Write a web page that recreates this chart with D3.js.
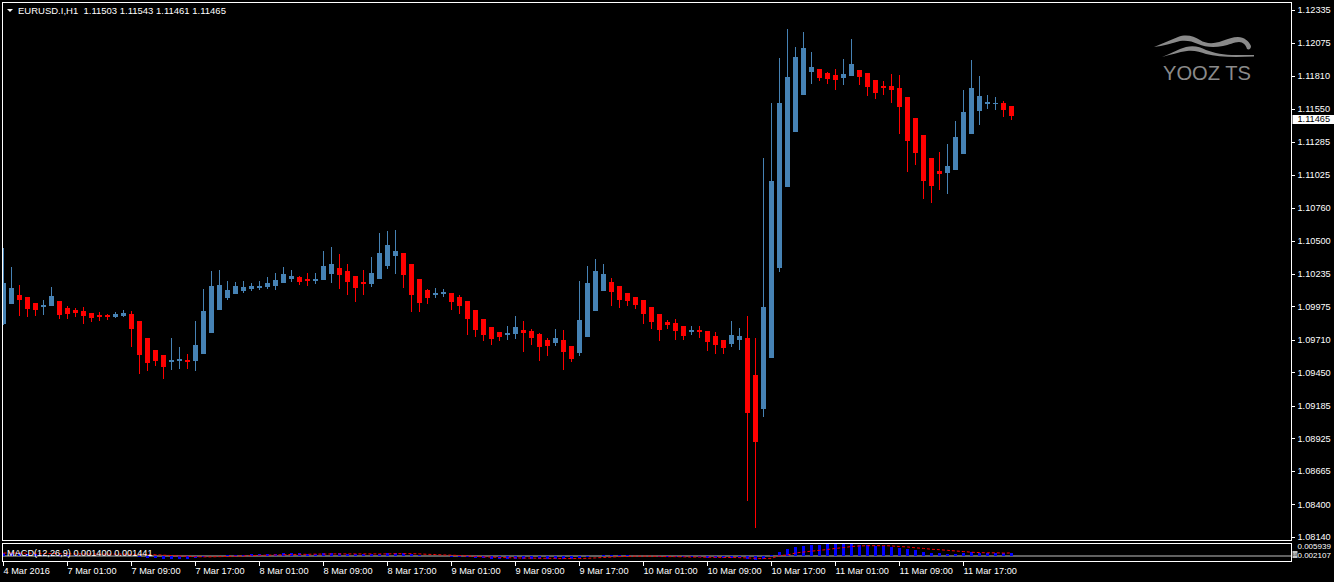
<!DOCTYPE html>
<html><head><meta charset="utf-8">
<script src="https://cdn.jsdelivr.net/npm/d3@7"></script>
<style>
html,body{margin:0;padding:0;background:#000;overflow:hidden;}
svg{display:block;}
text{font-family:"Liberation Sans",Arial,sans-serif;}
</style></head>
<body>
<svg id="chart" width="1334" height="582"></svg>
<script>
// ---------- DATA ----------
const symbolTitle = "EURUSD.I,H1  1.11503 1.11543 1.11461 1.11465";
const macdTitle = "MACD(12,26,9) 0.001400 0.001441";
const lastPrice = 1.11465;
const timeTickBars = [0, 8, 16, 24, 32, 40, 48, 56, 64, 72, 80, 88, 96, 104, 112, 120];
const timeTickLabels = ["4 Mar 2016","7 Mar 01:00","7 Mar 09:00","7 Mar 17:00","8 Mar 01:00","8 Mar 09:00",
  "8 Mar 17:00","9 Mar 01:00","9 Mar 09:00","9 Mar 17:00","10 Mar 01:00","10 Mar 09:00","10 Mar 17:00",
  "11 Mar 01:00","11 Mar 09:00","11 Mar 17:00"];
const priceTicks = [1.12335,1.12075,1.11810,1.11550,1.11285,1.11025,1.10760,1.10500,1.10235,
  1.09975,1.09710,1.09450,1.09185,1.08925,1.08665,1.08400,1.08140];
const macdScaleMax = 0.005939;
const macdScaleLabel2 = "0.002107";
const macdZeroLabel = "0.00";

const openP = [1.09836,1.09997,1.10066,1.10051,1.10003,1.09971,1.09981,1.10019,1.09963,1.09947,
1.09939,1.09923,1.09910,1.09910,1.09894,1.09902,1.09915,1.09860,1.09724,1.09629,
1.09589,1.09533,1.09541,1.09549,1.09543,1.09597,1.09764,1.09947,1.10043,1.10074,
1.10098,1.10114,1.10122,1.10130,1.10138,1.10162,1.10194,1.10210,1.10196,1.10180,
1.10186,1.10234,1.10281,1.10257,1.10218,1.10170,1.10154,1.10194,1.10297,1.10377,
1.10401,1.10313,1.10194,1.10106,1.10066,1.10074,1.10082,1.10051,1.10019,1.09947,
1.09875,1.09812,1.09772,1.09748,1.09756,1.09788,1.09780,1.09756,1.09708,1.09684,
1.09708,1.09660,1.09605,1.09732,1.09939,1.10098,1.10170,1.10138,1.10082,1.10051,
1.10027,1.09971,1.09915,1.09852,1.09844,1.09820,1.09772,1.09788,1.09780,1.09740,
1.09708,1.09676,1.09708,1.09724,1.09430,1.09159,1.09565,1.10281,1.10926,1.11364,
1.11658,1.11844,1.11865,1.11834,1.11818,1.11796,1.11812,1.11857,1.11834,1.11778,
1.11732,1.11732,1.11714,1.11642,1.11475,1.11340,1.11157,1.11053,1.11040,1.11064,
1.11191,1.11350,1.11533,1.11589,1.11589,1.11595,1.11571];
const highP = [1.10438,1.10289,1.10146,1.10051,1.10003,1.10029,1.10130,1.10019,1.09976,1.09963,
1.09971,1.09923,1.09929,1.09915,1.09929,1.09947,1.09939,1.09860,1.09724,1.09629,
1.09589,1.09724,1.09652,1.09597,1.09860,1.10114,1.10257,1.10265,1.10178,1.10170,
1.10178,1.10162,1.10178,1.10210,1.10242,1.10289,1.10265,1.10218,1.10242,1.10242,
1.10417,1.10449,1.10393,1.10313,1.10218,1.10265,1.10369,1.10560,1.10576,1.10584,
1.10401,1.10313,1.10194,1.10114,1.10122,1.10114,1.10082,1.10066,1.10019,1.09947,
1.09875,1.09812,1.09772,1.09820,1.09899,1.09860,1.09796,1.09764,1.09724,1.09796,
1.09788,1.09660,1.10178,1.10297,1.10353,1.10313,1.10202,1.10138,1.10082,1.10051,
1.10027,1.09971,1.09915,1.09867,1.09875,1.09820,1.09820,1.09820,1.09780,1.09772,
1.09708,1.09860,1.09804,1.09899,1.09724,1.11157,1.11595,1.11953,1.12184,1.12040,
1.12160,1.12001,1.11865,1.11844,1.11865,1.11945,1.12104,1.11857,1.11834,1.11778,
1.11770,1.11826,1.11818,1.11642,1.11475,1.11340,1.11157,1.11205,1.11268,1.11451,
1.11698,1.11937,1.11810,1.11658,1.11642,1.11611,1.11571];
const lowP = [1.09828,1.09995,1.09902,1.09894,1.09902,1.09910,1.09981,1.09878,1.09878,1.09894,
1.09838,1.09854,1.09862,1.09870,1.09886,1.09894,1.09652,1.09438,1.09464,1.09504,
1.09400,1.09472,1.09480,1.09477,1.09464,1.09597,1.09764,1.09947,1.10027,1.10074,
1.10085,1.10101,1.10109,1.10114,1.10106,1.10162,1.10170,1.10146,1.10138,1.10154,
1.10186,1.10162,1.10114,1.10066,1.10011,1.10066,1.10130,1.10194,1.10273,1.10234,
1.10122,1.09931,1.09931,1.09995,1.10043,1.10051,1.09947,1.09915,1.09748,1.09732,
1.09700,1.09668,1.09700,1.09708,1.09716,1.09613,1.09668,1.09541,1.09581,1.09660,
1.09470,1.09533,1.09581,1.09732,1.09939,1.10098,1.09979,1.09963,1.09979,1.09955,
1.09836,1.09796,1.09700,1.09796,1.09708,1.09708,1.09748,1.09724,1.09621,1.09597,
1.09597,1.09652,1.09629,1.08427,1.08212,1.09095,1.09565,1.10250,1.10926,1.11364,
1.11658,1.11748,1.11770,1.11748,1.11701,1.11740,1.11812,1.11740,1.11653,1.11629,
1.11661,1.11597,1.11350,1.11048,1.11104,1.10833,1.10801,1.10905,1.10873,1.11064,
1.11191,1.11350,1.11422,1.11549,1.11541,1.11486,1.11462];
const closeP = [1.10160,1.10122,1.10029,1.09955,1.09949,1.09987,1.10058,1.09910,1.09918,1.09923,
1.09902,1.09886,1.09891,1.09894,1.09918,1.09923,1.09796,1.09589,1.09525,1.09541,
1.09492,1.09549,1.09557,1.09533,1.09668,1.09939,1.10138,1.10146,1.10106,1.10138,
1.10130,1.10138,1.10140,1.10162,1.10186,1.10234,1.10218,1.10170,1.10180,1.10196,
1.10297,1.10313,1.10226,1.10170,1.10122,1.10154,1.10242,1.10401,1.10464,1.10417,
1.10226,1.10066,1.10003,1.10043,1.10082,1.10093,1.10011,1.09979,1.09875,1.09788,
1.09748,1.09716,1.09732,1.09764,1.09812,1.09764,1.09724,1.09652,1.09660,1.09724,
1.09613,1.09557,1.09867,1.10162,1.10257,1.10234,1.10090,1.10027,1.10019,1.09987,
1.09915,1.09852,1.09788,1.09828,1.09780,1.09740,1.09788,1.09772,1.09692,1.09668,
1.09645,1.09748,1.09740,1.09127,1.08896,1.09971,1.10974,1.11595,1.11802,1.11961,
1.12033,1.11881,1.11796,1.11786,1.11780,1.11826,1.11905,1.11804,1.11724,1.11677,
1.11717,1.11701,1.11565,1.11295,1.11199,1.10976,1.10936,1.11032,1.11093,1.11324,
1.11523,1.11714,1.11650,1.11605,1.11597,1.11541,1.11494];

const macdMain = [0.0015,0.0014,0.0012,0.0010,0.0008,0.0007,0.0007,0.0005,0.0004,0.0003,
0.0002,0.0001,0.0000,-0.0001,-0.0001,-0.0001,-0.0002,-0.0005,-0.0008,-0.0010,
-0.0012,-0.0012,-0.0012,-0.0012,-0.0010,-0.0006,-0.0002,0.0002,0.0004,0.0006,
0.0007,0.0008,0.0009,0.0010,0.0011,0.0012,0.0012,0.0012,0.0011,0.0011,
0.0012,0.0013,0.0013,0.0011,0.0009,0.0008,0.0008,0.0010,0.0012,0.0013,
0.0012,0.0009,0.0005,0.0002,0.0000,-0.0001,-0.0003,-0.0005,-0.0007,-0.0009,
-0.0011,-0.0012,-0.0013,-0.0013,-0.0012,-0.0012,-0.0012,-0.0013,-0.0013,-0.0012,
-0.0013,-0.0014,-0.0010,-0.0005,0.0000,0.0003,0.0004,0.0004,0.0003,0.0002,
0.0000,-0.0002,-0.0004,-0.0005,-0.0006,-0.0007,-0.0007,-0.0007,-0.0008,-0.0009,
-0.0010,-0.0009,-0.0009,-0.0013,-0.0018,-0.0014,0.0004,0.0020,0.0032,0.0041,
0.0046,0.0050,0.0050,0.0055,0.0055,0.0055,0.0058,0.0050,0.0050,0.0047,
0.0047,0.0044,0.0040,0.0032,0.0027,0.0020,0.0014,0.0014,0.0009,0.0009,
0.0014,0.0017,0.0014,0.0014,0.0014,0.0014,0.0014];
const macdSignal = [0.0014,0.0014,0.0014,0.0013,0.0013,0.0012,0.0012,0.0011,0.0011,0.0010,
0.0010,0.0010,0.0009,0.0009,0.0009,0.0009,0.0008,0.0008,0.0007,0.0006,
0.0004,0.0002,0.0000,-0.0002,-0.0003,-0.0004,-0.0004,-0.0003,-0.0002,-0.0001,
0.0000,0.0002,0.0003,0.0004,0.0005,0.0006,0.0007,0.0008,0.0008,0.0009,
0.0009,0.0010,0.0010,0.0010,0.0010,0.0010,0.0010,0.0010,0.0010,0.0011,
0.0011,0.0011,0.0010,0.0008,0.0007,0.0005,0.0004,0.0002,0.0000,-0.0002,
-0.0004,-0.0005,-0.0007,-0.0008,-0.0009,-0.0010,-0.0010,-0.0011,-0.0011,-0.0011,
-0.0012,-0.0012,-0.0012,-0.0011,-0.0009,-0.0007,-0.0005,-0.0003,-0.0002,-0.0001,
-0.0001,-0.0001,-0.0002,-0.0003,-0.0003,-0.0004,-0.0005,-0.0005,-0.0006,-0.0006,
-0.0007,-0.0007,-0.0008,-0.0009,-0.0011,-0.0012,-0.0011,0.0002,0.0005,0.0014,
0.0019,0.0023,0.0027,0.0031,0.0036,0.0040,0.0045,0.0048,0.0049,0.0049,
0.0049,0.0048,0.0045,0.0043,0.0039,0.0036,0.0032,0.0030,0.0027,0.0024,
0.0021,0.0018,0.0016,0.0015,0.0015,0.0014,0.001441];

// ---------- LAYOUT ----------
const W = 1334, H = 582;
const frameL = 2.5, frameR = 1291.5, mainTop = 2.5, mainBot = 540.5;
const subTop = 543.5, subBot = 561.5;
const bull = "#4682B4", bear = "#FF0000";
const FONT = '"Liberation Sans",Arial,sans-serif';

const svg = d3.select("#chart");
svg.append("rect").attr("width", W).attr("height", H).attr("fill", "#000");

const n = openP.length;
const x = d3.scaleLinear().domain([0, n - 1]).range([3.5, 3.5 + 8 * (n - 1)]);
const y = d3.scaleLinear().domain([1.08140, 1.12335]).range([537, 10]);
const ym = d3.scaleLinear().domain([0, macdScaleMax]).range([556, 543.5]);

const defs = svg.append("defs");
defs.append("clipPath").attr("id", "clipMain").append("rect")
  .attr("x", frameL + 0.5).attr("y", mainTop + 0.5).attr("width", frameR - frameL - 1).attr("height", mainBot - mainTop - 1);
defs.append("clipPath").attr("id", "clipSub").append("rect")
  .attr("x", frameL + 0.5).attr("y", subTop + 0.5).attr("width", frameR - frameL - 1).attr("height", subBot - subTop - 1);

// ---------- LOGO ----------
const logo = svg.append("g").attr("fill", "#8a8a8a");
// upper leaping body with head
logo.append("path").attr("d",
  "M1154,47 C1162,44 1170,40 1178,37 C1186,34 1194,36 1200,40 C1206,44 1214,44 1222,41 C1228,39 1233,37 1238,37 " +
  "C1244,37 1249,41 1251,46 C1251,49 1249,50 1247,49 C1246,45 1243,42 1239,42 C1234,42 1229,45 1223,46 " +
  "C1213,48 1205,47 1198,44 C1192,41 1186,40 1180,41 C1172,43 1163,46 1154,47 Z");
// lower body band
logo.append("path").attr("d",
  "M1162,57 C1170,54 1178,49 1186,47 C1194,45 1200,47 1206,50 C1214,53 1224,55 1236,55 L1254,55 L1254,56.5 " +
  "L1236,57 C1224,57 1214,56 1206,54 C1200,52 1194,50 1187,51 C1179,52 1170,55 1162,57 Z");
logo.append("text").attr("x", 1163).attr("y", 80).attr("font-size", 21)
  .attr("textLength", 88).attr("lengthAdjust", "spacingAndGlyphs").text("YOOZ TS");

// ---------- CANDLES ----------
const cg = svg.append("g").attr("clip-path", "url(#clipMain)").attr("shape-rendering", "crispEdges");
const idx = d3.range(n);
cg.selectAll("rect.wick").data(idx).join("rect").attr("class", "wick")
  .attr("x", i => x(i) - 0.5).attr("width", 1)
  .attr("y", i => y(highP[i]))
  .attr("height", i => Math.max(1, y(lowP[i]) - y(highP[i])))
  .attr("fill", i => closeP[i] >= openP[i] ? bull : bear);
cg.selectAll("rect.body").data(idx).join("rect").attr("class", "body")
  .attr("x", i => x(i) - 2.5).attr("width", 5)
  .attr("y", i => y(Math.max(openP[i], closeP[i])))
  .attr("height", i => Math.max(1, Math.abs(y(openP[i]) - y(closeP[i]))))
  .attr("fill", i => closeP[i] >= openP[i] ? bull : bear);

// ---------- MACD ----------
const mg = svg.append("g").attr("clip-path", "url(#clipSub)");
mg.append("line").attr("x1", frameL).attr("x2", frameR).attr("y1", ym(0)).attr("y2", ym(0))
  .attr("stroke", "#c0c0c0").attr("stroke-width", 1);
mg.selectAll("rect.hist").data(idx).join("rect").attr("class", "hist")
  .attr("shape-rendering", "crispEdges")
  .attr("x", i => x(i) - 1.5).attr("width", 3)
  .attr("y", i => Math.min(ym(0), ym(macdMain[i])))
  .attr("height", i => Math.abs(ym(macdMain[i]) - ym(0)))
  .attr("fill", "#0000FF");
mg.append("path").datum(idx)
  .attr("d", d3.line().x(i => x(i)).y(i => ym(macdSignal[i])))
  .attr("fill", "none").attr("stroke", "#FF0000").attr("stroke-width", 1).attr("stroke-dasharray", "3,2");

// ---------- FRAMES ----------
const fr = svg.append("g").attr("fill", "none").attr("stroke", "#fff").attr("stroke-width", 1).attr("shape-rendering", "crispEdges");
fr.append("rect").attr("x", frameL).attr("y", mainTop).attr("width", frameR - frameL).attr("height", mainBot - mainTop);
fr.append("rect").attr("x", frameL).attr("y", subTop).attr("width", frameR - frameL).attr("height", subBot - subTop);

// ---------- AXES ----------
const fontSize = 9.2;
const yAxis = d3.axisRight(y).tickValues(priceTicks).tickSize(3).tickPadding(3).tickFormat(d3.format(".5f"));
const yg = svg.append("g").attr("transform", `translate(${frameR},0)`).call(yAxis);
yg.select(".domain").remove();
yg.selectAll("line").attr("stroke", "#fff").attr("shape-rendering", "crispEdges");
yg.selectAll("text").attr("fill", "#fff").attr("font-size", fontSize).attr("font-family", FONT);

// current price label
const cp = svg.append("g");
cp.append("rect").attr("x", frameR + 1).attr("y", Math.round(y(lastPrice)) - 4)
  .attr("width", W - frameR - 1).attr("height", 9).attr("fill", "#fff");
cp.append("text").attr("x", frameR + 6).attr("y", y(lastPrice)).attr("dy", "0.33em")
  .attr("font-size", fontSize).attr("fill", "#000").text(d3.format(".5f")(lastPrice));

// MACD scale labels
svg.append("text").attr("x", frameR + 6).attr("y", 549).attr("font-size", 8).attr("fill", "#fff")
  .text(d3.format(".6f")(macdScaleMax));
svg.append("rect").attr("x", frameR + 1).attr("y", 551).attr("width", 5).attr("height", 7).attr("fill", "#c0c0c0");
svg.append("text").attr("x", frameR + 1.3).attr("y", 556).attr("font-size", 2.6).attr("fill", "#000").text(macdZeroLabel);
svg.append("text").attr("x", frameR + 6).attr("y", 557.5).attr("font-size", 8).attr("fill", "#fff")
  .text(macdScaleLabel2);

const xAxis = d3.axisBottom(x).tickValues(timeTickBars).tickSize(4)
  .tickFormat((d, i) => timeTickLabels[i]);
const xg = svg.append("g").attr("transform", `translate(0,${subBot})`).call(xAxis);
xg.select(".domain").remove();
xg.selectAll("line").attr("stroke", "#fff").attr("shape-rendering", "crispEdges")
  .attr("transform", "translate(-0.5,0)");
xg.selectAll("text").attr("fill", "#fff").attr("font-size", fontSize).attr("font-family", FONT)
  .attr("text-anchor", "start").attr("dy", null).attr("y", 12.5).attr("x", -0.5);

// ---------- TITLES ----------
svg.append("path").attr("d", "M7,9 L13,9 L10,12 Z").attr("fill", "#fff");
svg.append("text").attr("x", 18).attr("y", 14).attr("font-size", 9.5).attr("fill", "#fff")
  .attr("xml:space", "preserve").style("white-space", "pre").text(symbolTitle);
svg.append("text").attr("x", 7).attr("y", 555.5).attr("font-size", fontSize).attr("fill", "#fff")
  .text(macdTitle);
</script>
</body></html>
